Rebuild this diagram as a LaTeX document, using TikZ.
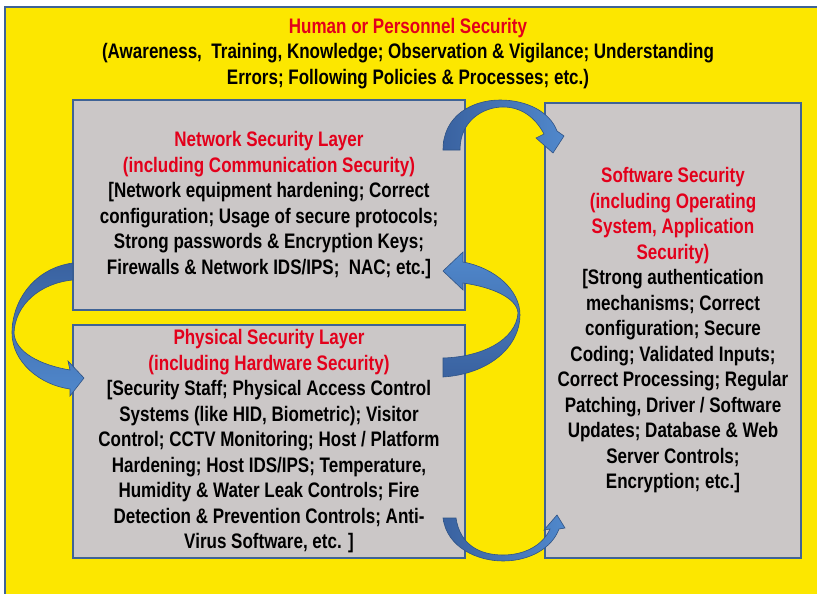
\documentclass[tikz,border=0pt]{standalone}
\usepackage{fontspec}
\setmainfont{Liberation Sans}[FakeStretch=0.81]
\definecolor{yel}{HTML}{FCE700}
\definecolor{boxg}{HTML}{CBC7C7}
\definecolor{bord}{HTML}{3F6396}
\definecolor{redt}{HTML}{E3001B}
\definecolor{adark}{HTML}{3A62A0}
\definecolor{alight}{HTML}{5088CC}
\definecolor{aedge}{HTML}{2F5385}
\begin{document}
\begin{tikzpicture}[x=1pt,y=-1pt,
  layerbox/.style={draw=bord,line width=1.6pt,fill=boxg,inner sep=0pt,align=center,
    font=\bfseries\fontsize{21}{25.5}\selectfont},
  blockarrow/.style={draw=aedge,line width=0.6pt}]
\useasboundingbox (0,0) rectangle (817,594);
\fill[white] (0,0) rectangle (817,594);
\fill[yel] (5,7) rectangle (817,594);
\draw[bord,line width=1.6pt] (5,594) -- (5,7) -- (817,7);

\node[align=center,font=\bfseries\fontsize{21}{25.5}\selectfont,inner sep=0pt] (human) at (408,53.5)
 {\textcolor{redt}{Human or Personnel Security}\\
  (Awareness,\ \ Training, Knowledge; Observation \& Vigilance; Understanding\\
  Errors; Following Policies \& Processes; etc.)};

\node[layerbox,minimum width=392pt,minimum height=210pt] (net) at (269,205)
 {\textcolor{redt}{Network Security Layer}\\
  \textcolor{redt}{(including Communication Security)}\\
  {[}Network equipment hardening; Correct\\
  configuration; Usage of secure protocols;\\
  Strong passwords \& Encryption Keys;\\
  Firewalls \& Network IDS/IPS;\ \ NAC; etc.]};

\node[layerbox,minimum width=392pt,minimum height=233pt] (phys) at (269,441.5)
 {\textcolor{redt}{Physical Security Layer}\\
  \textcolor{redt}{(including Hardware Security)}\\
  {[}Security Staff; Physical Access Control\\
  Systems (like HID, Biometric); Visitor\\
  Control; CCTV Monitoring;\ Host / Platform\\
  Hardening; Host IDS/IPS; Temperature,\\
  Humidity \& Water Leak Controls; Fire\\
  Detection \& Prevention Controls; Anti-\\
  Virus Software, etc. ]};

\node[layerbox,minimum width=256pt,minimum height=455pt] (soft) at (673,330.5)
 {\textcolor{redt}{Software Security}\\
  \textcolor{redt}{(including Operating}\\
  \textcolor{redt}{System, Application}\\
  \textcolor{redt}{Security)}\\
  {[}Strong authentication\\
  mechanisms; Correct\\
  configuration; Secure\\
  Coding; Validated Inputs;\\
  Correct Processing; Regular\\
  Patching, Driver / Software\\
  Updates; Database \& Web\\
  Server Controls;\\
  Encryption; etc.]};

% top arrow: network -> software
\shade[blockarrow,left color=adark,right color=alight]
 (443,150) .. controls (443,115) and (473,100) .. (500,100)
 .. controls (527,100) and (550,112) .. (557,131)
 -- (564,136) -- (553,153) -- (536,138) -- (544,134)
 .. controls (535,117) and (521,107) .. (503,107)
 .. controls (484,107) and (460,120) .. (460,150) -- cycle;

% left arrow: network -> physical
\shade[blockarrow,top color=adark,bottom color=alight]
 (73,263) .. controls (35,268) and (12,300) .. (12,333)
 .. controls (12,362) and (40,385) .. (70,389)
 -- (70,396) -- (84,378) -- (68,361) -- (70,370)
 .. controls (40,365) and (15,352) .. (14,333)
 .. controls (15,305) and (40,283) .. (73,280) -- cycle;

% right arrow: physical -> network
\shade[blockarrow,bottom color=adark,top color=alight]
 (443,377) .. controls (490,374) and (520,346) .. (520,315)
 .. controls (520,290) and (495,268) .. (463,262)
 -- (463,252) -- (443,271) -- (463,290) -- (463,283)
 .. controls (492,287) and (517,298) .. (518,313)
 .. controls (516,340) and (482,357) .. (443,358) -- cycle;

% bottom arrow: physical -> software
\shade[blockarrow,left color=adark,right color=alight]
 (443,518) .. controls (447,548) and (478,561) .. (503,561)
 .. controls (530,561) and (552,548) .. (559,529)
 -- (565,528) -- (557,515) -- (544,530) -- (550,529)
 .. controls (543,545) and (525,555) .. (503,555)
 .. controls (480,555) and (460,545) .. (456,518) -- cycle;
\end{tikzpicture}
\end{document}
